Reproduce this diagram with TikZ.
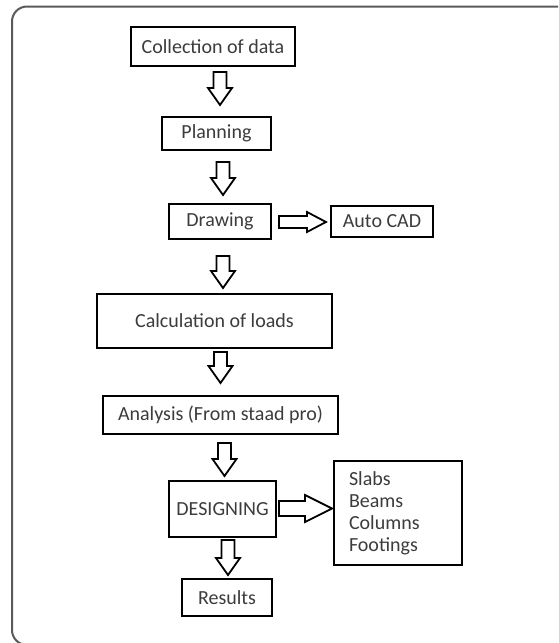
\documentclass[tikz,border=0pt]{standalone}
\usepackage{fontspec}
\setmainfont{Carlito}
\usetikzlibrary{calc}
\definecolor{txt}{HTML}{3C3C3C}
\definecolor{frame}{HTML}{5A5A5A}
\tikzset{
  box/.style={draw=black, line width=2.2pt, fill=white, text=txt, inner sep=0pt,
    font=\fontsize{20}{22}\selectfont},
  blockarrow/.style={draw=black, line width=1.8pt, fill=white, line join=miter},
}
% down block arrow: x, ytop, ybottom
\newcommand{\BlkDown}[3]{%
  \draw[blockarrow] (#1-6.5,#2) -- (#1+6.5,#2) -- (#1+6.5,#3-17) -- (#1+12,#3-17)
    -- (#1,#3) -- (#1-12,#3-17) -- (#1-6.5,#3-17) -- cycle;}
% right block arrow: xleft, xright, ycenter, half shaft, half head, head length
\newcommand{\BlkRight}[6]{%
  \draw[blockarrow] (#1,#3-#4) -- (#2-#6,#3-#4) -- (#2-#6,#3-#5) -- (#2,#3)
    -- (#2-#6,#3+#5) -- (#2-#6,#3+#4) -- (#1,#3+#4) -- cycle;}
\begin{document}
\begin{tikzpicture}[x=1pt,y=-1pt]
\useasboundingbox (0,0) rectangle (558,643);
% outer frame (partly outside the image)
\begin{scope}
\clip (0,0) rectangle (558,643);
\draw[frame, line width=2pt, rounded corners=15pt] (12,6.5) rectangle (600,645);
\end{scope}

\node[box, minimum width=164pt, minimum height=39pt] (coll) at (213,46.5) {Collection of data};
\node[box, minimum width=109pt, minimum height=33pt] (plan) at (216.5,133.5) {Planning};
\node[box, minimum width=102pt, minimum height=35pt] (drw) at (220,221.5) {Drawing};
\node[box, minimum width=102pt, minimum height=31pt] (cad) at (382,221.5) {Auto CAD};
\node[box, minimum width=235pt, minimum height=54pt] (calc) at (214.5,321) {Calculation of loads};
\node[box, minimum width=235pt, minimum height=38pt] (anal) at (220.5,415) {Analysis (From staad pro)};
\node[box, minimum width=107pt, minimum height=56pt] (des) at (222.5,509) {DESIGNING};
\node[box, minimum height=104pt, inner xsep=15pt, text width=98pt, align=left] (parts) at (398,513)
  {Slabs\\Beams\\Columns\\Footings};
\node[box, minimum width=90pt, minimum height=37pt] (res) at (227,597.5) {Results};

\BlkDown{220}{72}{105}
\BlkDown{223}{162}{195}
\BlkDown{223}{256}{288}
\BlkDown{220.5}{352}{383}
\BlkDown{224.5}{443}{476}
\BlkDown{228}{540}{575}
\BlkRight{279}{326}{222}{6}{10}{19}
\BlkRight{279}{332}{508.5}{7.5}{13.5}{27}
\end{tikzpicture}
\end{document}
